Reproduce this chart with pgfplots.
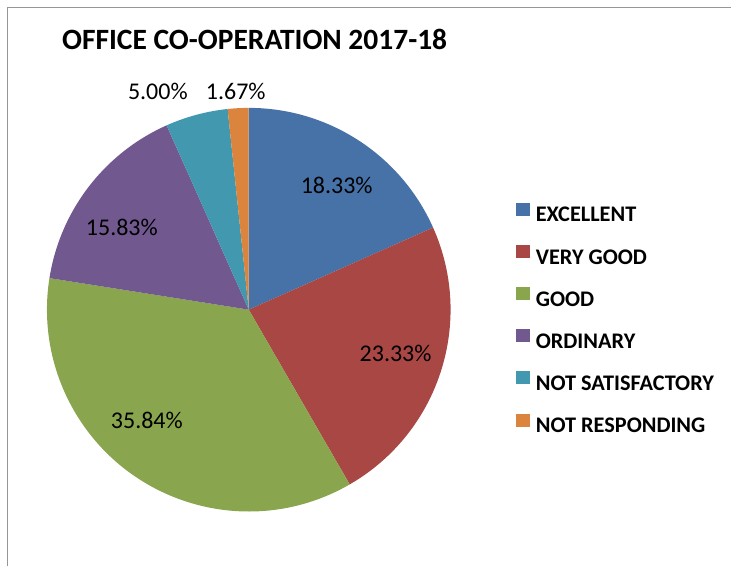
\documentclass[border=0pt]{standalone}
\usepackage{pgfplots}
\pgfplotsset{compat=1.18}
\usepackage{fontspec}
\setmainfont{Carlito}
\definecolor{cExc}{RGB}{70,114,168}
\definecolor{cVG}{RGB}{169,71,69}
\definecolor{cGood}{RGB}{137,165,78}
\definecolor{cOrd}{RGB}{113,88,143}
\definecolor{cNS}{RGB}{65,152,175}
\definecolor{cNR}{RGB}{219,132,61}
\definecolor{frameC}{RGB}{150,150,150}

% pie data: value (percent) / colour
\def\piedata{18.33/cExc, 23.33/cVG, 35.84/cGood, 15.83/cOrd, 5.00/cNS, 1.67/cNR}
\def\cx{249}\def\cy{257}\def\rad{202}
\gdef\slices{}
\xdef\cumang{90}
\foreach \v/\c in \piedata {%
  \pgfmathsetmacro\a{\cumang}%
  \pgfmathsetmacro\b{\cumang-\v*3.6}%
  \xdef\slices{\slices\noexpand\fill[\c] (axis cs:\cx,\cy) -- ([shift={(\a:\rad bp)}]axis cs:\cx,\cy) arc[start angle=\a, end angle=\b, radius=\rad bp] -- cycle;}%
  \xdef\cumang{\b}%
}

\begin{document}
\begin{tikzpicture}
\begin{axis}[
  scale only axis, width=732bp, height=567bp,
  xmin=0, xmax=732, ymin=0, ymax=567,
  hide axis, clip=false,
  legend style={draw=none, fill=none, inner sep=0pt, outer sep=0pt,
    at={(axis cs:517,364)}, anchor=north west,
    font=\bfseries\fontsize{22.3bp}{26bp}\selectfont,
    row sep=23bp,
    nodes={inner xsep=6bp, inner ysep=0bp, text height=14bp, text depth=0bp}},
  legend cell align=left,
]
\path (axis cs:0,0) rectangle (axis cs:732,567);
\slices
\draw[frameC, line width=1.5bp] (axis cs:7.5,0) -- (axis cs:7.5,559.5) -- (axis cs:732,559.5);
\node[anchor=base west, font=\bfseries\fontsize{29.5bp}{34bp}\selectfont, inner sep=0pt] at (axis cs:62,517) {OFFICE CO-OPERATION 2017-18};
\begin{scope}[every node/.style={anchor=base, inner sep=0pt, font=\fontsize{24bp}{28bp}\selectfont}]
\node at (axis cs:337,373) {18.33\%};
\node at (axis cs:396,205) {23.33\%};
\node at (axis cs:147,138) {35.84\%};
\node at (axis cs:122,331) {15.83\%};
\node at (axis cs:158,467) {5.00\%};
\node at (axis cs:236,467) {1.67\%};
\end{scope}
\addlegendimage{legend image code/.code={\fill[cExc] (0bp,0bp) rectangle (13bp,12bp);}}
\addlegendentry{EXCELLENT}
\addlegendimage{legend image code/.code={\fill[cVG] (0bp,0bp) rectangle (13bp,12bp);}}
\addlegendentry{VERY GOOD}
\addlegendimage{legend image code/.code={\fill[cGood] (0bp,0bp) rectangle (13bp,12bp);}}
\addlegendentry{GOOD}
\addlegendimage{legend image code/.code={\fill[cOrd] (0bp,0bp) rectangle (13bp,12bp);}}
\addlegendentry{ORDINARY}
\addlegendimage{legend image code/.code={\fill[cNS] (0bp,0bp) rectangle (13bp,12bp);}}
\addlegendentry{NOT SATISFACTORY}
\addlegendimage{legend image code/.code={\fill[cNR] (0bp,0bp) rectangle (13bp,12bp);}}
\addlegendentry{NOT RESPONDING}
\end{axis}
\end{tikzpicture}
\end{document}
